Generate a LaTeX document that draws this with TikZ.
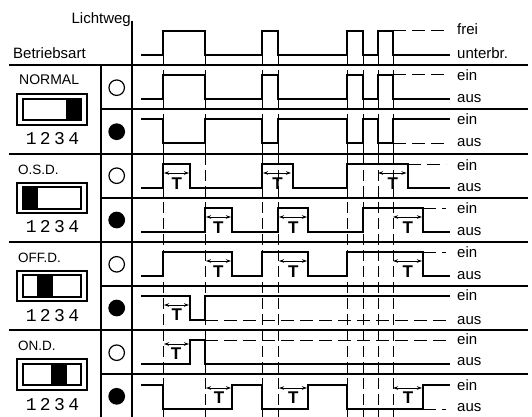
\documentclass[tikz,border=0pt]{standalone}
\usepackage{fontspec}
\setmainfont{Liberation Sans}
\newfontfamily\digitfont[LetterSpace=19]{Liberation Mono}
\usetikzlibrary{arrows.meta}
\tikzset{
  tablerule/.style={line width=2pt},
  signal/.style={line width=2pt},
  idle/.style={line width=1pt,dash pattern=on 13pt off 6pt},
  timemark/.style={line width=1pt},
  timedash/.style={line width=1pt,dash pattern=on 11pt off 5pt},
  delayspan/.style={line width=0.9pt,{Stealth[length=5pt,width=3.5pt]}-{Stealth[length=5pt,width=3.5pt]}},
  switchframe/.style={line width=1.5pt},
  lampon/.style={circle,draw,fill=black,line width=1.2pt,minimum size=15.5pt,inner sep=0pt},
  lampoff/.style={circle,draw,line width=1.2pt,minimum size=15.5pt,inner sep=0pt},
  lbl/.style={font=\fontsize{15}{15}\selectfont,inner sep=0pt,anchor=west},
  mode/.style={font=\fontsize{13.5}{14}\selectfont,inner sep=0pt,anchor=west},
  digits/.style={font=\fontsize{18}{18}\digitfont,inner sep=0pt},
  tlabel/.style={font=\fontsize{17}{17}\selectfont\bfseries,inner sep=0pt}
}
\begin{document}
\begin{tikzpicture}[x=1pt,y=-1pt]
\useasboundingbox (0,0) rectangle (532,417);
% table rules
\draw [tablerule] (9,65) -- (528,65);
\draw [tablerule] (101,109) -- (528,109);
\draw [tablerule] (9,154) -- (528,154);
\draw [tablerule] (101,198) -- (528,198);
\draw [tablerule] (9,242) -- (528,242);
\draw [tablerule] (101,286) -- (528,286);
\draw [tablerule] (9,330) -- (528,330);
\draw [tablerule] (101,374) -- (528,374);
\draw [tablerule] (101,65) -- (101,417);
\draw [tablerule] (132,21) -- (132,417);
% time marks
\draw [timemark] (163,55) -- (163,65) (163,70) -- (163,109) (163,114) -- (163,153);
\draw [timemark] (205,55) -- (205,65) (205,70) -- (205,109) (205,114) -- (205,153);
\draw [timemark] (262,55) -- (262,65) (262,70) -- (262,109) (262,114) -- (262,153);
\draw [timemark] (278,55) -- (278,65) (278,70) -- (278,109) (278,114) -- (278,153);
\draw [timemark] (347,55) -- (347,65) (347,70) -- (347,109) (347,114) -- (347,153);
\draw [timemark] (363,55) -- (363,65) (363,70) -- (363,109) (363,114) -- (363,153);
\draw [timemark] (378,55) -- (378,65) (378,70) -- (378,109) (378,114) -- (378,153);
\draw [timemark] (393,55) -- (393,65) (393,70) -- (393,109) (393,114) -- (393,153);
\draw [timedash] (163,154) -- (163,417);
\draw [timedash] (205,154) -- (205,417);
\draw [timedash] (262,154) -- (262,417);
\draw [timedash] (278,154) -- (278,417);
\draw [timedash] (347,154) -- (347,417);
\draw [timedash] (363,154) -- (363,417);
\draw [timedash] (378,154) -- (378,417);
\draw [timedash] (393,154) -- (393,417);
% signals
\draw [signal] (141,55) -| (163,31) -| (205,55) -| (262,31) -| (278,55) -| (347,31) -| (363,55) -| (378,31) -| (393,55) -- (450,55);
\draw [signal] (141,99) -| (163,75) -| (205,99) -| (262,75) -| (278,99) -| (347,75) -| (363,99) -| (378,75) -| (393,99) -- (450,99);
\draw [signal] (141,119) -| (163,143) -| (205,119) -| (262,143) -| (278,119) -| (347,143) -| (363,119) -| (378,143) -| (393,119) -- (450,119);
\draw [signal] (141,188) -| (163,164) -| (190,188) -| (262,164) -| (293,188) -| (347,164) -| (408,188) -- (450,188);
\draw [signal] (141,232) -| (205,208) -| (232,232) -| (278,208) -| (308,232) -| (363,208) -| (423,232) -- (450,232);
\draw [signal] (141,276) -| (163,252) -| (232,276) -| (262,252) -| (308,276) -| (347,252) -| (423,276) -- (450,276);
\draw [signal] (141,296) -| (190,320) -| (205,296) -- (450,296);
\draw [signal] (141,364) -| (190,340) -| (205,364) -- (450,364);
\draw [signal] (141,385) -| (163,409) -| (232,385) -| (262,409) -| (308,385) -| (347,409) -| (423,385) -- (450,385);
% idle levels
\draw [idle] (393,31) -- (446,31);
\draw [idle] (393,75) -- (446,75);
\draw [idle] (393,143) -- (446,143);
\draw [idle] (408,164) -- (446,164);
\draw [idle] (423,208) -- (446,208);
\draw [idle] (423,252) -- (446,252);
\draw [idle] (205,320) -- (449,320);
\draw [idle] (205,340) -- (449,340);
\draw [idle] (423,409) -- (446,409);
% delay spans
\draw [delayspan] (164,173) -- (189,173);
\draw [delayspan] (263,173) -- (291,173);
\draw [delayspan] (378,173) -- (406.5,173);
\draw [delayspan] (206,217) -- (231,217);
\draw [delayspan] (279,217) -- (307,217);
\draw [delayspan] (393,217) -- (422,217);
\draw [delayspan] (206,261) -- (231,261);
\draw [delayspan] (279,261) -- (307,261);
\draw [delayspan] (393,261) -- (422,261);
\draw [delayspan] (164,305) -- (189,305);
\draw [delayspan] (164,344) -- (189,344);
\draw [delayspan] (206,388) -- (231,388);
\draw [delayspan] (279,388) -- (307,388);
\draw [delayspan] (393,388) -- (422,388);
\node (t1) at (176.7,183.7) [tlabel] {T};
\node (t2) at (277.5,183.7) [tlabel] {T};
\node (t3) at (392.7,183.7) [tlabel] {T};
\node (t4) at (218.3,227.7) [tlabel] {T};
\node (t5) at (293.3,227.7) [tlabel] {T};
\node (t6) at (407.7,227.7) [tlabel] {T};
\node (t7) at (218.3,271.5) [tlabel] {T};
\node (t8) at (293.3,271.5) [tlabel] {T};
\node (t9) at (407.7,271.5) [tlabel] {T};
\node (t10) at (176.7,315) [tlabel] {T};
\node (t11) at (176,353.7) [tlabel] {T};
\node (t12) at (219,397.3) [tlabel] {T};
\node (t13) at (293.3,397.3) [tlabel] {T};
\node (t14) at (408,397.3) [tlabel] {T};
% lamps
\node (lamp1) at (116.7,87.7) [lampoff] {};
\node (lamp2) at (116.7,131.7) [lampon] {};
\node (lamp3) at (116.7,175.7) [lampoff] {};
\node (lamp4) at (116.7,220) [lampon] {};
\node (lamp5) at (116.7,264.3) [lampoff] {};
\node (lamp6) at (116.7,308) [lampon] {};
\node (lamp7) at (116.7,352.7) [lampoff] {};
\node (lamp8) at (116.7,396.3) [lampon] {};
% switches
\draw [switchframe] (17,94) rectangle (87,125);
\draw [switchframe] (23,99) rectangle (81,120);
\fill [black] (66,99) rectangle (81,120);
\draw [switchframe] (17,183) rectangle (87,213);
\draw [switchframe] (23,187) rectangle (81,209);
\fill [black] (23,187) rectangle (38,209);
\draw [switchframe] (17,271) rectangle (87,301);
\draw [switchframe] (23,275) rectangle (81,297);
\fill [black] (37,275) rectangle (53,297);
\draw [switchframe] (17,359) rectangle (87,390);
\draw [switchframe] (23,364) rectangle (81,385);
\fill [black] (51,364) rectangle (67,385);
\node (dig1) at (52.5,139) [digits] {1234};
\node (dig2) at (52.5,227) [digits] {1234};
\node (dig3) at (52.5,316) [digits] {1234};
\node (dig4) at (52.5,404.7) [digits] {1234};
% texts
\node (weg) at (131,20) [lbl,anchor=east] {Lichtweg};
\node (art) at (13,53) [lbl] {Betriebsart};
\node (normal) at (19,79.5) [mode,font=\fontsize{14}{14}\selectfont] {NORMAL};
\node (osd) at (18,169.5) [mode] {O.S.D.};
\node (offd) at (18,258) [mode] {OFF.D.};
\node (ond) at (18,345.5) [mode] {ON.D.};
\node (frei) at (457,29) [lbl] {frei};
\node (unterbr) at (457,53) [lbl] {unterbr.};
\node (ein1) at (457,75) [lbl] {ein};
\node (aus1) at (457,99) [lbl] {aus};
\node (ein2) at (457,119) [lbl] {ein};
\node (aus2) at (457,143) [lbl] {aus};
\node (ein3) at (457,165) [lbl] {ein};
\node (aus3) at (457,188) [lbl] {aus};
\node (ein4) at (457,208) [lbl] {ein};
\node (aus4) at (457,232) [lbl] {aus};
\node (ein5) at (457,252) [lbl] {ein};
\node (aus5) at (457,276) [lbl] {aus};
\node (ein6) at (457,295) [lbl] {ein};
\node (aus6) at (457,321) [lbl] {aus};
\node (ein7) at (457,339) [lbl] {ein};
\node (aus7) at (457,362) [lbl] {aus};
\node (ein8) at (457,385) [lbl] {ein};
\node (aus8) at (457,408) [lbl] {aus};
\end{tikzpicture}
\end{document}
